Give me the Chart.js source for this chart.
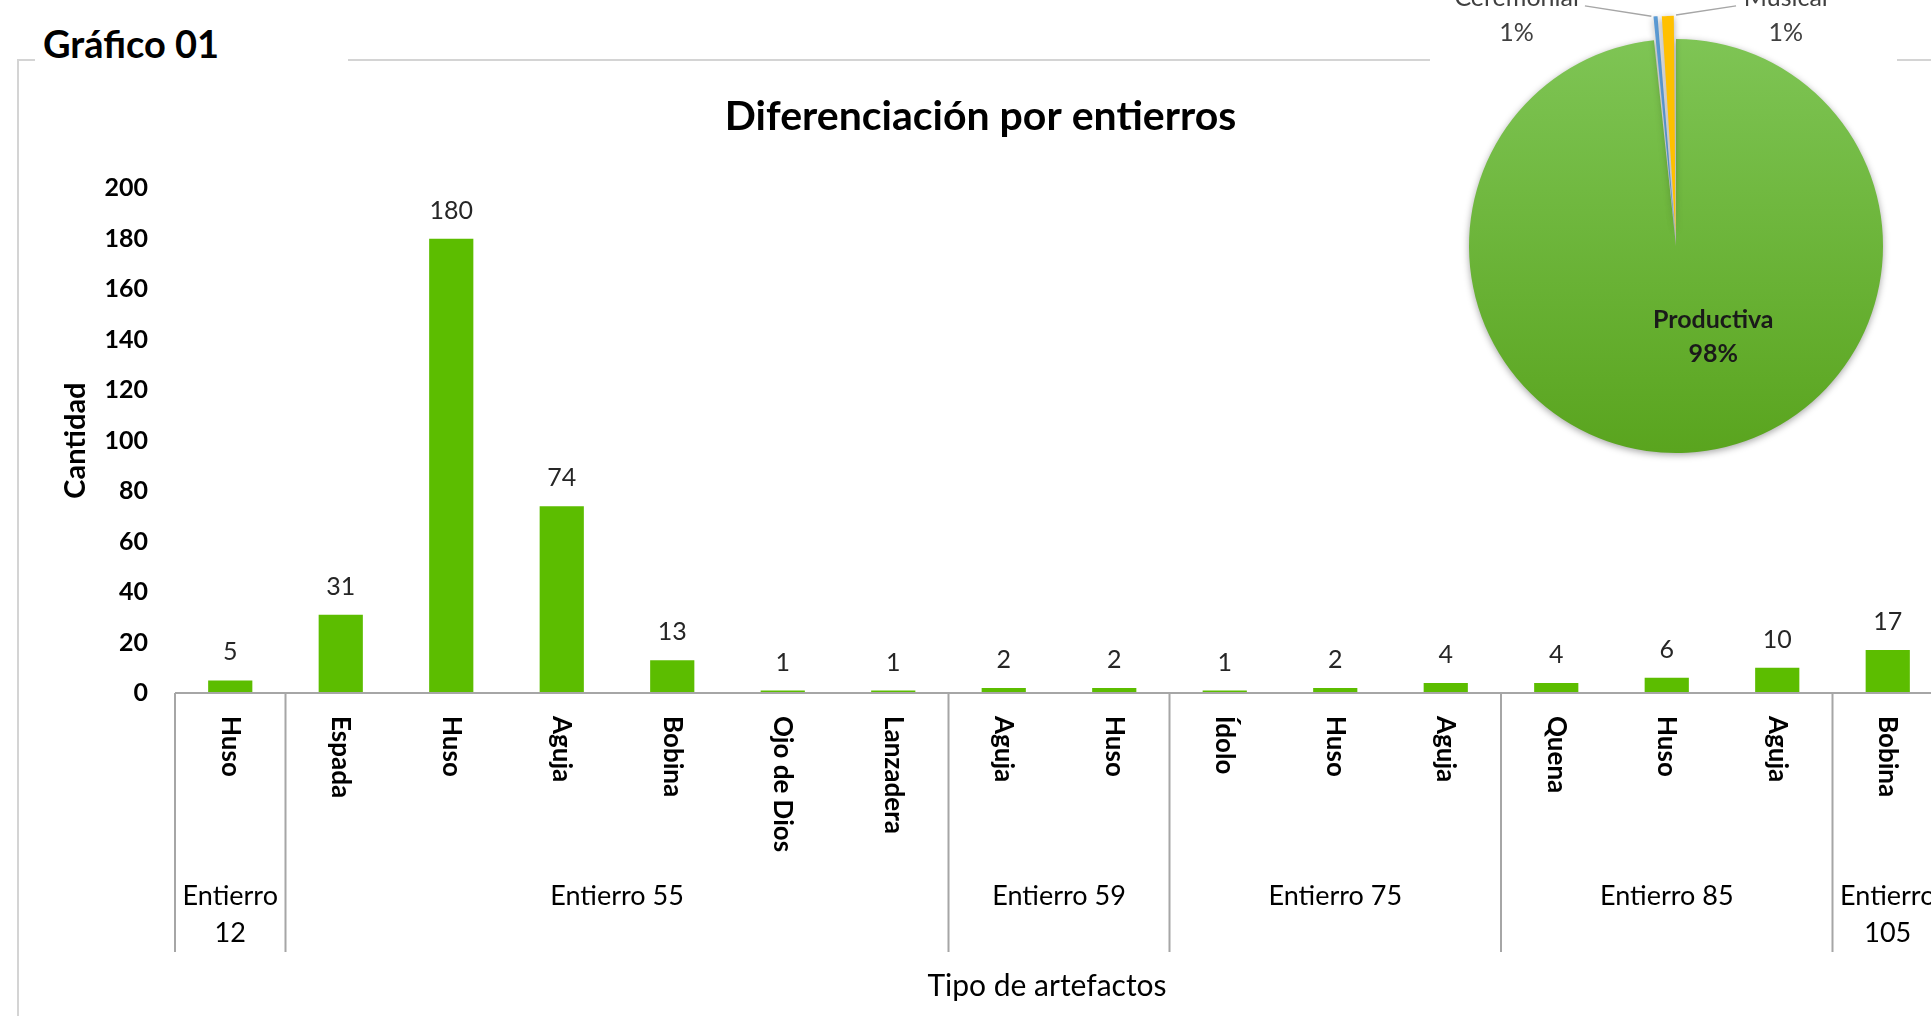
<!DOCTYPE html>
<html lang="es">
<head>
<meta charset="utf-8">
<title>Diferenciación por entierros</title>
<script src="https://cdn.jsdelivr.net/npm/chart.js@4.4.1/dist/chart.umd.min.js"></script>
<style>
  html, body { margin: 0; padding: 0; background: #fff; }
  body { width: 1931px; height: 1016px; overflow: hidden; position: relative; font-family: Lato, sans-serif; }
  #frame { position: absolute; left: 17px; top: 59px; width: 2000px; height: 1000px;
           border-left: 2px solid #d4d4d4; border-top: 2px solid #d4d4d4; }
  #tag { position: absolute; left: 35px; top: 25px; width: 305px; height: 37px; padding-left: 8px;
         background: #fff; font: bold 38px/37px Lato, sans-serif; color: #000; white-space: nowrap; }
  #barBox { position: absolute; left: 18px; top: 61px; width: 1930px; height: 955px; }
  #pieBox { position: absolute; left: 1430px; top: -30px; width: 467px; height: 500px; background: #fff; }
</style>
</head>
<body>
<div id="frame"></div>
<div id="tag">Gráfico 01</div>
<div id="barBox"><canvas id="barChart"></canvas></div>
<div id="pieBox"><canvas id="pieChart"></canvas></div>
<script>
// Gráfico de barras: artefactos por entierro
const artefactos = ['Huso', 'Espada', 'Huso', 'Aguja', 'Bobina', 'Ojo de Dios', 'Lanzadera',
                    'Aguja', 'Huso', 'Ídolo', 'Huso', 'Aguja', 'Quena', 'Huso', 'Aguja', 'Bobina'];
const cantidades = [5, 31, 180, 74, 13, 1, 1, 2, 2, 1, 2, 4, 4, 6, 10, 17];
const entierros = ['Entierro 12', 'Entierro 55', 'Entierro 59', 'Entierro 75', 'Entierro 85', 'Entierro 105'];
const artefactosPorEntierro = [1, 6, 2, 3, 3, 1];
const yMin = 0, yMax = 200, yStep = 20;

// Gráfico circular: función de los artefactos
const funciones = ['Productiva', 'Ceremonial', 'Musical'];
const funcionValores = [347, 2, 4];
const funcionColores = [null, '#5b9bd5', '#ffc000'];   // el primero es degradado

Chart.defaults.font.family = 'Lato, sans-serif';
Chart.defaults.color = '#000';

const GRIS = '#a6a6a6';

// etiquetas de valor sobre cada barra
const valoresPlugin = {
    id: 'valores',
    afterDatasetsDraw(chart) {
        const ctx = chart.ctx;
        const meta = chart.getDatasetMeta(0);
        ctx.save();
        ctx.font = '25px Lato';
        ctx.fillStyle = '#262626';
        ctx.textAlign = 'center';
        ctx.textBaseline = 'middle';
        meta.data.forEach((bar, i) => {
            ctx.fillText(String(cantidades[i]), bar.x, bar.y - 28);
        });
        ctx.restore();
    }
};

// eje x en dos niveles (artefacto / entierro)
const ejePlugin = {
    id: 'ejeCategorias',
    afterDraw(chart) {
        const { ctx, chartArea, scales: { x, y } } = chart;
        const y0 = y.getPixelForValue(0);
        const step = x.width / artefactos.length;
        ctx.save();
        ctx.strokeStyle = GRIS;
        ctx.lineWidth = 2;
        ctx.beginPath();
        ctx.moveTo(chartArea.left, y0);
        ctx.lineTo(chartArea.right, y0);
        ctx.stroke();

        ctx.fillStyle = '#000';
        ctx.font = 'bold 26px Lato';
        ctx.textAlign = 'left';
        ctx.textBaseline = 'middle';
        artefactos.forEach((name, i) => {
            ctx.save();
            ctx.translate(x.getPixelForValue(i), y0 + 23);
            ctx.rotate(Math.PI / 2);
            ctx.fillText(name, 0, 0);
            ctx.restore();
        });

        ctx.font = '27px Lato';
        ctx.textAlign = 'center';
        let idx = 0;
        entierros.forEach((g, k) => {
            const n = artefactosPorEntierro[k];
            const left = x.getPixelForValue(idx) - step / 2;
            const right = x.getPixelForValue(idx + n - 1) + step / 2;
            ctx.beginPath();
            ctx.moveTo(left, y0);
            ctx.lineTo(left, y0 + 259);
            ctx.stroke();
            const lines = ctx.measureText(g).width > right - left - 6 ? g.split(' ') : [g];
            lines.forEach((t, j) => ctx.fillText(t, (left + right) / 2, y0 + 203 + j * 37));
            idx += n;
        });

        ctx.font = '30px Lato';
        ctx.fillText('Tipo de artefactos', (chartArea.left + chartArea.right) / 2 - 12, y0 + 293);
        ctx.restore();
    }
};

new Chart(document.getElementById('barChart'), {
    type: 'bar',
    data: {
        labels: artefactos,
        datasets: [{
            data: cantidades,
            backgroundColor: '#5cbd00',
            borderWidth: 0,
            barPercentage: 0.4,
            categoryPercentage: 1.0
        }]
    },
    options: {
        responsive: true,
        maintainAspectRatio: false,
        animation: false,
        layout: { padding: { left: 0, right: 5, top: 0, bottom: 0 } },
        plugins: {
            legend: { display: false },
            tooltip: { enabled: false },
            title: {
                display: true,
                text: 'Diferenciación por entierros',
                color: '#000',
                font: { size: 41, weight: 'bold' },
                padding: { top: 31, bottom: 47 }
            }
        },
        scales: {
            x: {
                ticks: { display: false },
                grid: { display: false, drawTicks: false },
                border: { display: false },
                afterFit: s => { s.height = 323; }
            },
            y: {
                min: yMin,
                max: yMax,
                ticks: { stepSize: yStep, padding: 27, color: '#000', font: { size: 25, weight: 'bold' } },
                grid: { display: false, drawTicks: false },
                border: { display: false },
                title: {
                    display: true,
                    text: 'Cantidad',
                    color: '#000',
                    font: { size: 29, weight: 'bold' },
                    padding: { top: 40, bottom: 0 }
                },
                afterFit: s => { s.width = 157; }
            }
        }
    }
    ,
    plugins: [valoresPlugin, ejePlugin]
});

// color de cada sector; el mayor lleva degradado vertical
function colorSector(context) {
    const i = context.dataIndex;
    if (funcionColores[i]) return funcionColores[i];
    const area = context.chart.chartArea;
    if (!area) return '#6cb93a';
    const g = context.chart.ctx.createLinearGradient(0, area.top, 0, area.bottom);
    g.addColorStop(0, '#80c657');
    g.addColorStop(1, '#58a31c');
    return g;
}

const etiquetasPie = {
    id: 'etiquetasPie',
    beforeDatasetsDraw(chart) {
        const ctx = chart.ctx;
        ctx.save();
        ctx.shadowColor = 'rgba(0,0,0,0.35)';
        ctx.shadowBlur = 7;
        ctx.shadowOffsetY = 2;
    },
    afterDatasetsDraw(chart) {
        const ctx = chart.ctx;
        ctx.restore();
        const arcs = chart.getDatasetMeta(0).data;
        const total = funcionValores.reduce((a, b) => a + b, 0);
        const pct = v => Math.round(v / total * 100) + '%';
        const c = arcs[0];
        const r = c.outerRadius;
        ctx.save();
        ctx.textAlign = 'center';
        ctx.textBaseline = 'middle';
        ctx.font = 'bold 25px Lato';
        ctx.fillStyle = '#1a1a1a';
        ctx.fillText(funciones[0], c.x + 0.18 * r, c.y + 0.355 * r);
        ctx.fillText(pct(funcionValores[0]), c.x + 0.18 * r, c.y + 0.52 * r);

        ctx.font = '25px Lato';
        ctx.fillStyle = '#404040';
        ctx.strokeStyle = GRIS;
        ctx.lineWidth = 1.5;
        // [índice, posición x del texto, inicio de la guía] en radios
        [[1, -0.77, -0.44], [2, 0.53, 0.29]].forEach(([i, tx, lx]) => {
            const a = arcs[i];
            const off = a.options.offset || 0;
            const ang = tx < 0 ? a.startAngle : a.endAngle;
            const rr = a.outerRadius + off / 2;
            ctx.beginPath();
            ctx.moveTo(c.x + lx * r, c.y - 1.16 * r);
            ctx.lineTo(a.x + Math.cos(ang) * rr, a.y + Math.sin(ang) * rr);
            ctx.stroke();
            ctx.fillText(funciones[i], c.x + tx * r, c.y - 1.2 * r);
            ctx.fillText(pct(funcionValores[i]), c.x + tx * r, c.y - 1.03 * r);
        });
        ctx.restore();
    }
};

new Chart(document.getElementById('pieChart'), {
    type: 'pie',
    data: {
        labels: funciones,
        datasets: [{
            data: funcionValores,
            backgroundColor: colorSector,
            borderWidth: 0,
            offset: [0, 48, 48]
        }]
    },
    options: {
        responsive: true,
        maintainAspectRatio: false,
        animation: false,
        radius: 207,
        layout: { padding: { left: 25, right: 0, top: 52, bottom: 0 } },
        plugins: {
            legend: { display: false },
            tooltip: { enabled: false }
        }
    },
    plugins: [etiquetasPie]
});
</script>
</body>
</html>
